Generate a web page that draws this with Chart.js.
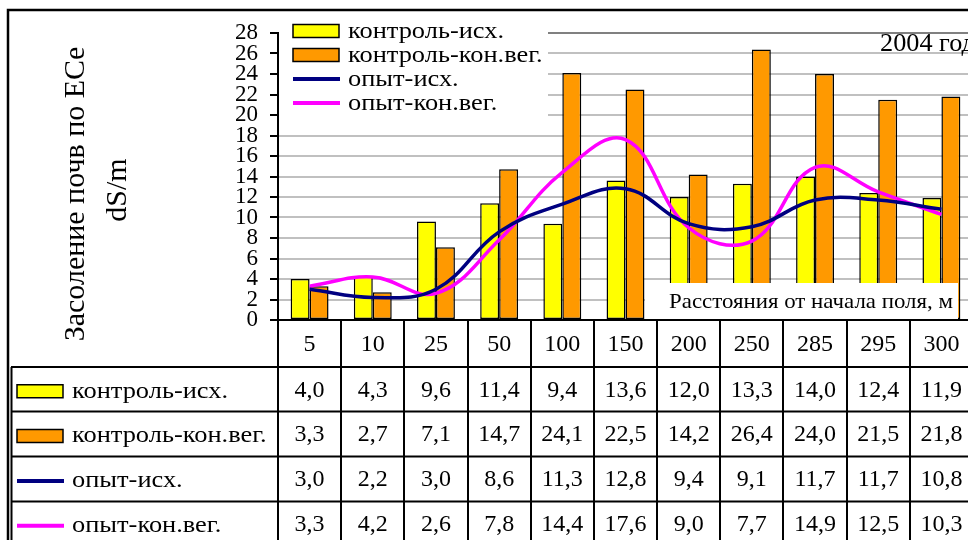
<!DOCTYPE html>
<html>
<head>
<meta charset="utf-8">
<script src="https://cdn.jsdelivr.net/npm/chart.js@4.4.1/dist/chart.umd.min.js"></script>
<style>
  html, body { margin: 0; padding: 0; background: #fff; overflow: hidden; }
  #wrap { position: relative; width: 975px; height: 540px; }
</style>
</head>
<body>
<div id="wrap"><canvas id="salinityChart"></canvas></div>
<script>
// ========================================
// Data
// ========================================
const distances = ['5', '10', '25', '50', '100', '150', '200', '250', '285', '295', '300'];
const kontrolIsh = [4.0, 4.3, 9.6, 11.4, 9.4, 13.6, 12.0, 13.3, 14.0, 12.4, 11.9];
const kontrolKon = [3.3, 2.7, 7.1, 14.7, 24.1, 22.5, 14.2, 26.4, 24.0, 21.5, 21.8];
const opytIsh = [3.0, 2.2, 3.0, 8.6, 11.3, 12.8, 9.4, 9.1, 11.7, 11.7, 10.8];
const opytKon = [3.3, 4.2, 2.6, 7.8, 14.4, 17.6, 9.0, 7.7, 14.9, 12.5, 10.3];
const yTicks = [0, 2, 4, 6, 8, 10, 12, 14, 16, 18, 20, 22, 24, 26, 28];

const seriesNames = ['контроль-исх.', 'контроль-кон.вег.', 'опыт-исх.', 'опыт-кон.вег.'];
const seriesValues = [kontrolIsh, kontrolKon, opytIsh, opytKon];
const seriesColors = ['#FFFF00', '#FF9900', '#000080', '#FF00FF'];
const seriesKind = ['bar', 'bar', 'line', 'line'];

const SERIF = "'Liberation Serif', 'Times New Roman', serif";

// ========================================
// Helpers
// ========================================
function fmt(v) {
    return v.toFixed(1).replace('.', ',');
}

// text a little wider than the font, like the original picture
function wideText(ctx, text, x, y, sx) {
    ctx.save();
    ctx.translate(x, y);
    ctx.scale(sx, 1);
    ctx.fillText(text, 0, 0);
    ctx.restore();
}

function drawKey(ctx, i, x, yc) {
    if (seriesKind[i] === 'bar') {
        ctx.fillStyle = seriesColors[i];
        ctx.fillRect(x, yc - 6.5, 46, 13);
        ctx.lineWidth = 1.5;
        ctx.strokeStyle = '#000';
        ctx.strokeRect(x, yc - 6.5, 46, 13);
    } else {
        ctx.strokeStyle = seriesColors[i];
        ctx.lineWidth = 4;
        ctx.beginPath();
        ctx.moveTo(x, yc);
        ctx.lineTo(x + 47, yc);
        ctx.stroke();
    }
}

// ========================================
// Extras: frame, legend, labels, data table
// ========================================
const extrasPlugin = {
    id: 'extras',
    afterDraw(chart) {
        const ctx = chart.ctx;
        const xs = chart.scales.x;
        const area = chart.chartArea;
        const half = (xs.right - xs.left) / distances.length / 2;
        ctx.save();

        // axis title (rotated)
        ctx.fillStyle = '#000';
        ctx.textAlign = 'center';
        ctx.textBaseline = 'middle';
        ctx.font = '30px ' + SERIF;
        ctx.save();
        ctx.translate(76, 194);
        ctx.rotate(-Math.PI / 2);
        ctx.fillText('Засоление почв по ECe', 0, 0);
        ctx.restore();
        ctx.save();
        ctx.translate(118, 190);
        ctx.rotate(-Math.PI / 2);
        ctx.fillText('dS/m', 0, 0);
        ctx.restore();

        // legend in the plot
        ctx.fillStyle = '#fff';
        ctx.fillRect(area.left + 1, 12, 269, 106);
        ctx.textAlign = 'left';
        ctx.font = '24px ' + SERIF;
        const legY = [31, 55, 79, 103];
        seriesNames.forEach((name, i) => {
            drawKey(ctx, i, 293, legY[i]);
            ctx.fillStyle = '#000';
            wideText(ctx, name, 348, legY[i] + 1, 1.1);
        });

        // year label
        ctx.font = '25px ' + SERIF;
        wideText(ctx, '2004 год', 880, 44, 1.05);

        // axis caption box
        ctx.fillStyle = '#fff';
        ctx.fillRect(645, 283, 313, area.bottom - 284);
        ctx.fillStyle = '#000';
        ctx.font = '22px ' + SERIF;
        ctx.textAlign = 'center';
        wideText(ctx, 'Расстояния от начала поля, м', 811, 302, 1.04);

        // data table
        const rows = [area.bottom, 367, 411.5, 456.5, 501.5, 546];
        ctx.strokeStyle = '#000';
        ctx.lineWidth = 2;
        ctx.beginPath();
        for (let r = 1; r < rows.length - 1; r++) {
            ctx.moveTo(11, rows[r]);
            ctx.lineTo(chart.width, rows[r]);
        }
        for (let k = 0; k <= distances.length; k++) {
            const xb = Math.round(xs.left + k * half * 2);
            ctx.moveTo(xb, area.bottom);
            ctx.lineTo(xb, 540);
        }
        ctx.moveTo(11.5, rows[1]);
        ctx.lineTo(11.5, 540);
        ctx.stroke();

        ctx.font = '24px ' + SERIF;
        ctx.textAlign = 'center';
        distances.forEach((d, j) => {
            const cx = xs.getPixelForValue(j);
            ctx.fillText(d, cx, (rows[0] + rows[1]) / 2 + 1);
            seriesValues.forEach((vals, i) => {
                ctx.fillText(fmt(vals[j]), cx, (rows[i + 1] + rows[i + 2]) / 2 + 1);
            });
        });
        seriesNames.forEach((name, i) => {
            const yc = (rows[i + 1] + rows[i + 2]) / 2;
            drawKey(ctx, i, 17, yc + 2);
            ctx.fillStyle = '#000';
            ctx.textAlign = 'left';
            wideText(ctx, name, 72, yc + 2, 1.1);
        });

        // outer frame
        ctx.strokeStyle = '#000';
        ctx.lineWidth = 2.5;
        ctx.strokeRect(8, 10, chart.width + 20, 560);
        ctx.restore();
    }
};

// ========================================
// Chart
// ========================================
const ctx = document.getElementById('salinityChart');
new Chart(ctx, {
    type: 'bar',
    data: {
        labels: distances,
        datasets: seriesNames.map((name, i) => seriesKind[i] === 'bar' ? {
            type: 'bar',
            label: name,
            data: seriesValues[i],
            backgroundColor: seriesColors[i],
            borderColor: '#000',
            borderWidth: 1.5,
            borderSkipped: false,
            categoryPercentage: 0.6,
            barPercentage: 1.0,
            order: 2
        } : {
            type: 'line',
            label: name,
            data: seriesValues[i],
            borderColor: seriesColors[i],
            borderWidth: 3.5,
            pointRadius: 0,
            tension: 0.4,
            fill: false,
            order: 1
        })
    },
    options: {
        responsive: true,
        maintainAspectRatio: false,
        animation: false,
        layout: { padding: { top: 33, right: 2, left: 0, bottom: 0 } },
        plugins: {
            legend: { display: false },
            tooltip: { enabled: false }
        },
        scales: {
            x: {
                grid: { display: false },
                border: { display: true, color: '#000', width: 2 },
                ticks: { display: false },
                afterFit: s => { s.height = 220; }
            },
            y: {
                min: 0,
                max: 28,
                afterBuildTicks: s => { s.ticks = yTicks.map(v => ({ value: v })); },
                afterFit: s => { s.width = 278; },
                border: { display: true, color: '#000', width: 2 },
                grid: {
                    color: c => c.tick && c.tick.value === 28 ? '#808080' : '#C0C0C0',
                    lineWidth: 2,
                    tickColor: '#000',
                    tickLength: 8,
                    tickWidth: 2
                },
                ticks: {
                    color: '#000',
                    padding: 12,
                    autoSkip: false,
                    font: { family: SERIF, size: 23, lineHeight: 0.9 }
                }
            }
        }
    },
    plugins: [extrasPlugin]
});
</script>
</body>
</html>
